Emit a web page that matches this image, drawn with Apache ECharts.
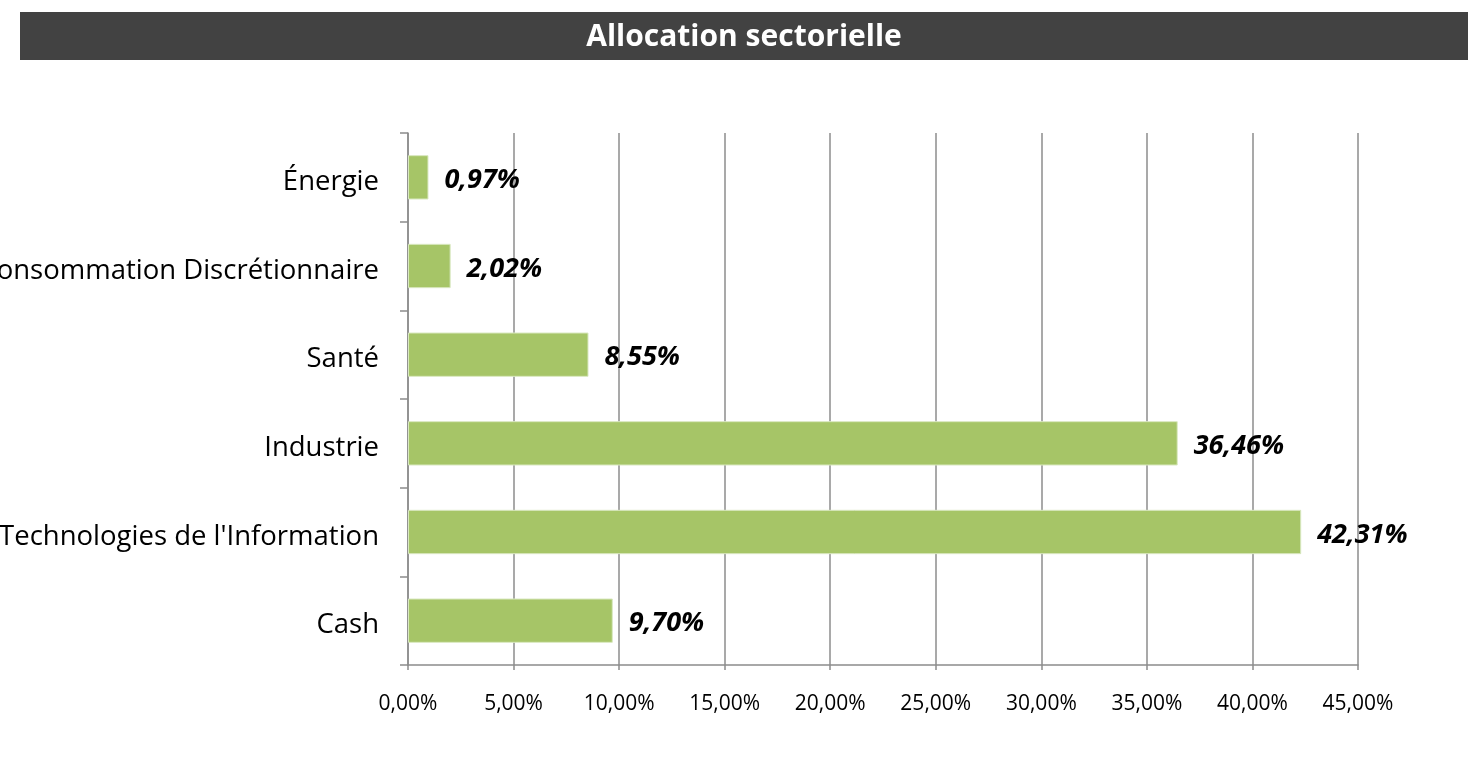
<!DOCTYPE html>
<html>
<head>
<meta charset="utf-8">
<script src="https://cdn.jsdelivr.net/npm/echarts@6/dist/echarts.min.js"></script>
<style>
  html, body { margin: 0; padding: 0; background: #ffffff; }
  #chart { width: 1468px; height: 758px; }
</style>
</head>
<body>
<div id="chart"></div>
<script>
// Sector allocation, bottom to top as drawn on the category axis
const sectors = ['Cash', "Technologies de l'Information", 'Industrie', 'Santé', 'Consommation Discrétionnaire', 'Énergie'];
const weights = [9.70, 42.31, 36.46, 8.55, 2.02, 0.97];
const xTicks = [0, 5, 10, 15, 20, 25, 30, 35, 40, 45];

const fmt = v => v.toFixed(2).replace('.', ',') + '%';
const FONT = '"Open Sans", sans-serif';

const chart = echarts.init(document.getElementById('chart'), null, { renderer: 'canvas' });
chart.setOption({
  animation: false,
  backgroundColor: '#ffffff',
  graphic: [{
    type: 'rect',
    shape: { x: 20, y: 12, width: 1448, height: 48 },
    style: { fill: '#424242' },
    silent: true
  }, {
    type: 'text',
    x: 744, y: 37,
    style: {
      text: 'Allocation sectorielle',
      fill: '#ffffff',
      font: 'bold 30px ' + FONT,
      textAlign: 'center',
      textVerticalAlign: 'middle'
    },
    silent: true
  }],
  grid: {
    left: 408, top: 133, width: 950, height: 532,
    containLabel: false,
    outerBoundsMode: 'none'
  },
  xAxis: {
    type: 'value',
    min: xTicks[0],
    max: xTicks[xTicks.length - 1],
    interval: 5,
    axisLine: { show: true, lineStyle: { color: '#8c8c8c', width: 1.5 } },
    axisTick: { show: true, length: 5, lineStyle: { color: '#8c8c8c', width: 1.5 } },
    splitLine: { show: true, lineStyle: { color: '#8c8c8c', width: 1.5 } },
    axisLabel: { color: '#000000', fontSize: 21, fontFamily: FONT, margin: 29, formatter: v => fmt(v) }
  },
  yAxis: {
    type: 'category',
    data: sectors,
    boundaryGap: true,
    axisLine: { show: true, lineStyle: { color: '#8c8c8c', width: 1.5 } },
    axisTick: { show: true, length: 8, lineStyle: { color: '#8c8c8c', width: 1.5 } },
    splitLine: { show: false },
    axisLabel: {
      margin: 29,
      formatter: v => '{c|' + v + '}',
      rich: { c: { color: '#000000', fontSize: 27.5, fontFamily: FONT, padding: [10, 0, 0, 0] } }
    }
  },
  series: [{
    type: 'bar',
    data: weights,
    barWidth: '50%',
    itemStyle: { color: '#a6c567', borderColor: '#d9e8c0', borderWidth: 1 },
    label: {
      show: true,
      position: 'right',
      distance: 16,
      formatter: p => '{v|' + fmt(p.value) + '}',
      rich: {
        v: {
          color: '#000000', fontSize: 27, fontWeight: 'bold', fontStyle: 'italic',
          fontFamily: FONT, padding: [6, 0, 0, 0]
        }
      }
    }
  }]
});
</script>
</body>
</html>
